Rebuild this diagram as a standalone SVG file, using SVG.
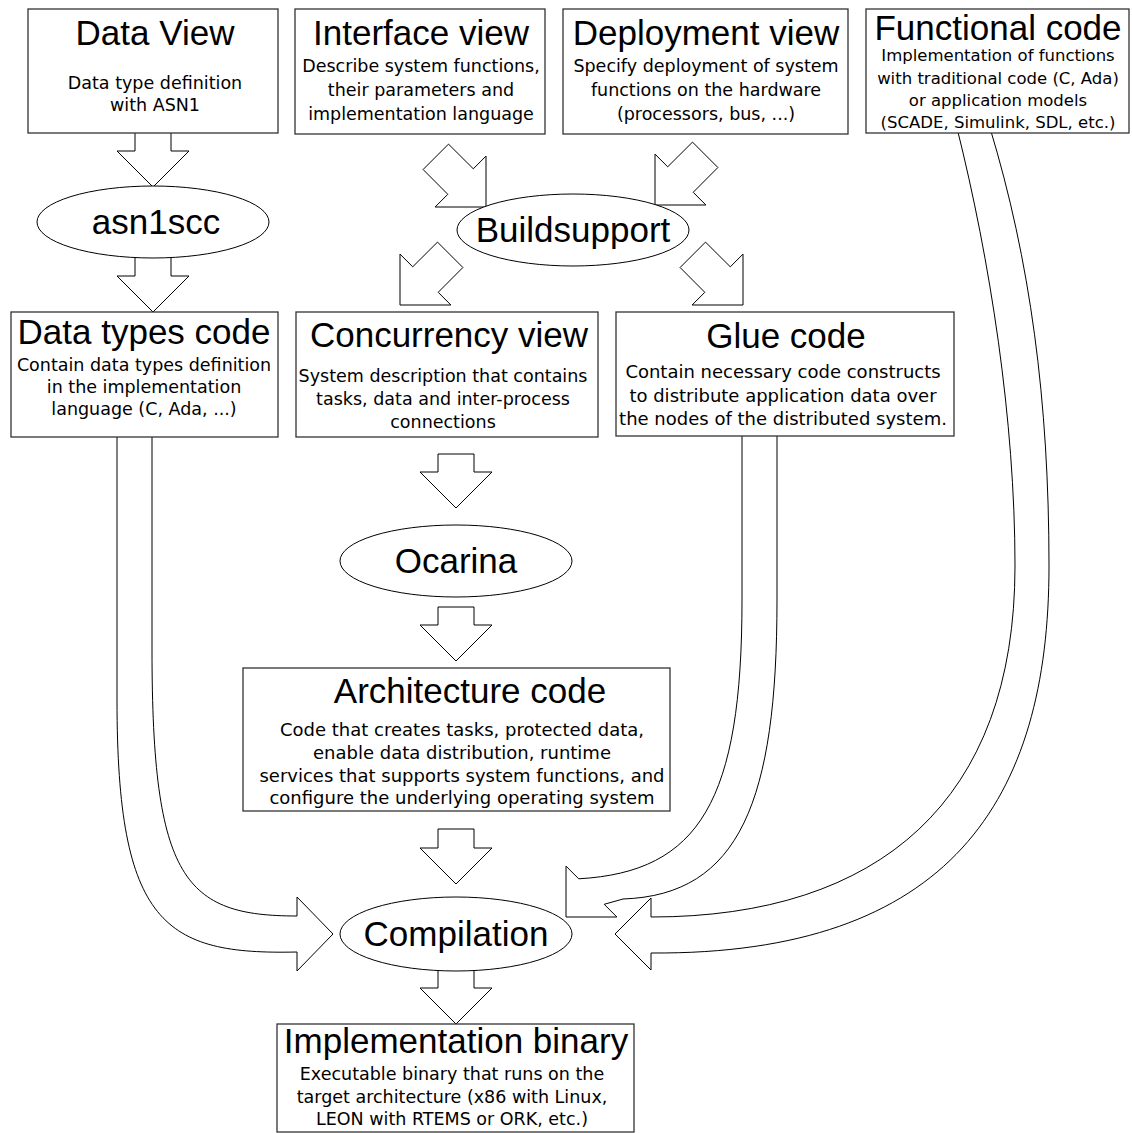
<svg xmlns="http://www.w3.org/2000/svg" width="1132" height="1133" viewBox="0 0 1132 1133">
<style>
.box{fill:#fff;stroke:#333;stroke-width:1.3}
.ell{fill:#fff;stroke:#000;stroke-width:1}
.arr{fill:#fff;stroke:#000;stroke-width:1;stroke-linejoin:miter}
.t{font-family:"Liberation Sans",Arial,sans-serif;font-size:35px;text-anchor:middle;fill:#000}
.s{font-family:"DejaVu Sans",sans-serif;font-size:17.5px;text-anchor:middle;fill:#000}
</style>
<rect width="1132" height="1133" fill="#fff"/>
<g id="connectors">
<path class="arr" d="M153,187 L117,151 L135,151 L135,128 L171,128 L171,151 L189,151 Z"/>
<path class="arr" d="M153,312 L117,276 L135,276 L135,250 L171,250 L171,276 L189,276 Z"/>
<path class="arr" d="M486,207 L435.1,207 L447.8,194.3 L423.1,169.5 L448.5,144.1 L473.3,168.8 L486,156.1 Z"/>
<path class="arr" d="M655,205 L705.9,205 L693.2,192.3 L717.9,167.5 L692.5,142.1 L667.7,166.8 L655,154.1 Z"/>
<path class="arr" d="M400,305 L450.9,305 L438.2,292.3 L462.9,267.5 L437.5,242.1 L412.7,266.8 L400,254.1 Z"/>
<path class="arr" d="M743,305 L692.1,305 L704.8,292.3 L680.1,267.5 L705.5,242.1 L730.3,266.8 L743,254.1 Z"/>
<path class="arr" d="M456,508 L420,472 L438,472 L438,454 L474,454 L474,472 L492,472 Z"/>
<path class="arr" d="M456,661 L420,625 L438,625 L438,607 L474,607 L474,625 L492,625 Z"/>
<path class="arr" d="M456,884 L420,848 L438,848 L438,829 L474,829 L474,848 L492,848 Z"/>
<path class="arr" d="M456,1024 L420,988 L438,988 L438,960 L474,960 L474,988 L492,988 Z"/>
<path class="arr" d="M117,430 L117,700 C117,925 165,955 297,952 L297,971 L333,934 L297,897 L297,916 C185,916 152,880 152,650 L152,430 Z"/>
<path class="arr" d="M742,430 L742,600 C742,800 700,872 578.7,878.8 L566,866.1 L566,917 L616.9,917 L604.2,904.3 L623,899 C740,895 777,800 777,600 L777,430 Z"/>
<path class="arr" d="M957,128 C990,260 1015,420 1015,566 C1015,800 880,917 651,917 L651,898 L615,934 L651,970 L651,953 C950,955 1049,800 1049,566 C1049,400 1030,260 990,128 Z"/>
</g>
<g id="data-view">
<rect class="box" x="28" y="9" width="250" height="124"/>
<text class="t" x="155" y="45">Data View</text>
<text class="s" x="155" y="89">Data type definition</text>
<text class="s" x="155" y="111">with ASN1</text>
</g>
<g id="interface-view">
<rect class="box" x="295" y="9" width="250" height="125"/>
<text class="t" x="421" y="45">Interface view</text>
<text class="s" x="421" y="72">Describe system functions,</text>
<text class="s" x="421" y="96">their parameters and</text>
<text class="s" x="421" y="120">implementation language</text>
</g>
<g id="deployment-view">
<rect class="box" x="563" y="9" width="285" height="125"/>
<text class="t" x="706" y="45">Deployment view</text>
<text class="s" x="706" y="72">Specify deployment of system</text>
<text class="s" x="706" y="96">functions on the hardware</text>
<text class="s" x="706" y="120">(processors, bus, ...)</text>
</g>
<g id="functional-code">
<rect class="box" x="866" y="9" width="263" height="124"/>
<text class="t" x="998" y="40">Functional code</text>
<text class="s" x="998" y="61" style="font-size:16.5px">Implementation of functions</text>
<text class="s" x="998" y="84" style="font-size:16.5px">with traditional code (C, Ada)</text>
<text class="s" x="998" y="106" style="font-size:16.5px">or application models</text>
<text class="s" x="998" y="128" style="font-size:16.5px">(SCADE, Simulink, SDL, etc.)</text>
</g>
<g id="asn1scc">
<ellipse class="ell" cx="153" cy="222" rx="116" ry="36"/>
<text class="t" x="156" y="234">asn1scc</text>
</g>
<g id="buildsupport">
<ellipse class="ell" cx="573" cy="230" rx="116" ry="36"/>
<text class="t" x="573" y="242">Buildsupport</text>
</g>
<g id="data-types-code">
<rect class="box" x="11" y="312" width="267" height="125"/>
<text class="t" x="144" y="344">Data types code</text>
<text class="s" x="144" y="371">Contain data types definition</text>
<text class="s" x="144" y="393">in the implementation</text>
<text class="s" x="144" y="415">language (C, Ada, ...)</text>
</g>
<g id="concurrency-view">
<rect class="box" x="296" y="312" width="302" height="125"/>
<text class="t" x="449" y="347">Concurrency view</text>
<text class="s" x="443" y="382">System description that contains</text>
<text class="s" x="443" y="405">tasks, data and inter-process</text>
<text class="s" x="443" y="428">connections</text>
</g>
<g id="glue-code">
<rect class="box" x="616" y="312" width="338" height="124"/>
<text class="t" x="786" y="348">Glue code</text>
<text class="s" x="783" y="378" style="font-size:18px">Contain necessary code constructs</text>
<text class="s" x="783" y="402" style="font-size:18px">to distribute application data over</text>
<text class="s" x="783" y="425" style="font-size:18px">the nodes of the distributed system.</text>
</g>
<g id="ocarina">
<ellipse class="ell" cx="456" cy="561" rx="116" ry="36"/>
<text class="t" x="456" y="573">Ocarina</text>
</g>
<g id="architecture-code">
<rect class="box" x="243" y="668" width="427" height="143"/>
<text class="t" x="470" y="703">Architecture code</text>
<text class="s" x="462" y="736" style="font-size:18px">Code that creates tasks, protected data,</text>
<text class="s" x="462" y="759" style="font-size:18px">enable data distribution, runtime</text>
<text class="s" x="462" y="782" style="font-size:18px">services that supports system functions, and</text>
<text class="s" x="462" y="804" style="font-size:18px">configure the underlying operating system</text>
</g>
<g id="compilation">
<ellipse class="ell" cx="456" cy="934" rx="116" ry="37"/>
<text class="t" x="456" y="946">Compilation</text>
</g>
<g id="implementation-binary">
<rect class="box" x="277" y="1024" width="357" height="108"/>
<text class="t" x="456" y="1053">Implementation binary</text>
<text class="s" x="452" y="1080">Executable binary that runs on the</text>
<text class="s" x="452" y="1103">target architecture (x86 with Linux,</text>
<text class="s" x="452" y="1125">LEON with RTEMS or ORK, etc.)</text>
</g>
</svg>
